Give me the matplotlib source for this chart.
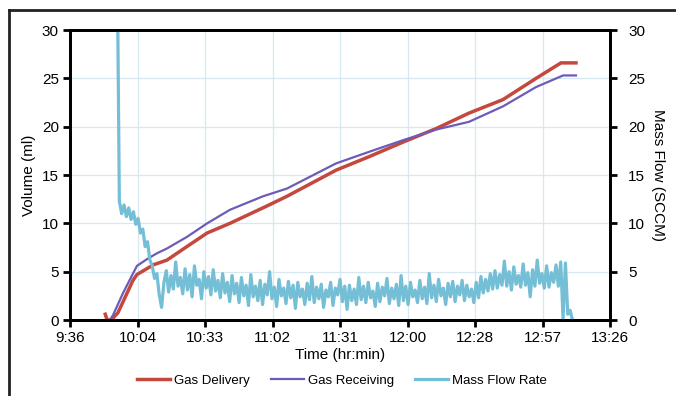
import numpy as np
import matplotlib.pyplot as plt
from matplotlib.lines import Line2D

plt.rcParams['font.family'] = ['Liberation Sans', 'DejaVu Sans']

# time in minutes after 9:36
tick_labels = ['9:36', '10:04', '10:33', '11:02', '11:31', '12:00', '12:28', '12:57', '13:26']

delivery_t = [15.0, 15.8, 17.5, 20.4, 26.8, 28.5, 35.4, 41.3, 49.8, 58.4, 68.1, 83.9, 92.4,
              113.3, 127.4, 141.8, 155.9, 169.9, 184.4, 198.5, 209.1, 215.5]
delivery_v = [0.6, 0.0, 0.0, 0.75, 4.1, 4.7, 5.7, 6.2, 7.6, 9.0, 10.0, 11.8, 12.8,
              15.5, 16.9, 18.4, 19.8, 21.4, 22.8, 25.0, 26.6, 26.6]

receiving_t = [17.0, 18.3, 22.6, 26.8, 28.5, 32.8, 37.0, 41.3, 49.8, 58.4, 68.1, 82.2, 92.4,
               113.3, 127.4, 141.8, 155.9, 169.9, 184.4, 198.5, 210.0, 215.5]
receiving_v = [0.0, 0.5, 2.8, 4.8, 5.6, 6.3, 6.9, 7.4, 8.6, 10.0, 11.4, 12.8, 13.6,
               16.2, 17.4, 18.6, 19.7, 20.5, 22.1, 24.1, 25.3, 25.3]

# mass flow, one reading per minute from t=20
flow_start = 20
flow_v = [40.0,
          12.3, 11.0, 11.9, 10.7, 11.6, 10.4, 11.2, 9.9, 10.5, 9.0,
          9.4, 7.6, 8.1, 6.2, 5.6, 4.3, 4.8, 2.6, 1.3, 3.9,
          5.1, 2.9, 4.6, 3.2, 6.0, 3.5, 4.4, 2.7, 5.3, 3.1,
          4.7, 2.4, 5.6, 3.6, 4.2, 2.2, 5.0, 3.3, 4.5, 2.6,
          5.2, 3.0, 4.1, 2.3, 4.8, 2.8, 3.9, 1.9, 4.6, 2.7,
          3.8, 1.8, 4.4, 2.5, 3.6, 1.5, 4.7, 2.4, 3.5, 2.0,
          4.1, 1.6, 3.7, 2.6, 5.0, 2.2, 3.4, 1.4, 4.2, 2.5,
          3.3, 1.7, 4.0, 2.3, 3.6, 1.2, 3.9, 2.4, 3.2, 1.6,
          3.8, 2.1, 4.5, 1.8, 3.4, 2.2, 3.7, 1.3, 3.1, 2.4,
          3.9, 1.5, 3.3, 2.6, 4.2, 1.9, 3.5, 1.1, 3.6, 2.0,
          3.2, 1.6, 4.4, 2.1, 3.5, 1.8, 3.9, 2.3, 3.0, 1.4,
          3.8, 1.9, 3.4, 2.5, 4.3, 1.7, 3.3, 2.2, 3.7, 1.5,
          4.6, 2.0, 3.5, 1.6, 3.9, 2.4, 3.1, 1.8, 4.1, 2.2,
          3.4, 1.7, 4.8, 2.3, 3.6, 1.9, 4.2, 2.5, 3.3, 1.6,
          3.8, 2.4, 4.0, 1.9, 3.5, 2.6, 4.1, 2.0, 3.6, 2.4,
          3.2, 1.8, 3.9, 2.3, 4.5, 2.8, 4.2, 3.0, 4.8, 3.2,
          5.1, 3.3, 4.7, 3.6, 6.1, 3.5, 5.0, 3.1, 5.5, 3.7,
          4.6, 3.4, 5.8, 3.6, 4.9, 2.4, 5.2, 3.5, 6.2, 3.8,
          4.8, 3.3, 5.6, 3.4, 4.9, 3.9, 5.7, 3.5, 6.0, 0.1,
          5.9, 0.6, 1.0, 0.0]
flow_t = np.arange(len(flow_v)) + flow_start

red = '#c4483e'
purple = '#6c5cb8'
cyan = '#74bed6'
grid_c = '#d6e9f2'

fig = plt.figure(figsize=(6.76, 3.96), dpi=100)
ax = fig.add_axes([0.1036, 0.1919, 0.7988, 0.7323])
ax2 = ax.twinx()

ax.plot(delivery_t, delivery_v, color=red, lw=2.5, label='Gas Delivery', zorder=3)
ax.plot(receiving_t, receiving_v, color=purple, lw=1.6, label='Gas Receiving', zorder=4)
ax2.plot(flow_t, flow_v, color=cyan, lw=2.3, label='Mass Flow Rate')

xt = np.linspace(0, 230, len(tick_labels))
for a in (ax, ax2):
    a.set_xlim(0, 230)
    a.set_ylim(0, 30)
    a.set_yticks(range(0, 31, 5))
    for s in a.spines.values():
        s.set_linewidth(2)
ax.set_xticks(xt)
ax.set_xticklabels(tick_labels)
ax.grid(True, color=grid_c, lw=0.9)
ax.set_axisbelow(True)

ax.tick_params(axis='both', labelsize=11, width=2, length=5, pad=3)
ax2.tick_params(axis='y', labelsize=11, width=2, length=5, pad=8)

ax.set_xlabel('Time (hr:min)', fontsize=11, labelpad=2)
ax.set_ylabel('Volume (ml)', fontsize=11, labelpad=4)
ax2.set_ylabel('Mass Flow (SCCM)', fontsize=11, rotation=270, labelpad=14)

handles = ax.get_lines() + ax2.get_lines()
fig.legend(handles, [h.get_label() for h in handles], loc='center', bbox_to_anchor=(0.506, 0.038),
           ncol=3, frameon=False, fontsize=9.5, handlelength=2.5, handletextpad=0.3,
           columnspacing=1.6)

# page frame (left and top edges)
fig.add_artist(Line2D([0.0133, 0.0133], [0, 0.9747], color='#222222', lw=2))
fig.add_artist(Line2D([0.0133, 1.0], [0.9747, 0.9747], color='#222222', lw=2))

fig.savefig('out.png', dpi=100)
